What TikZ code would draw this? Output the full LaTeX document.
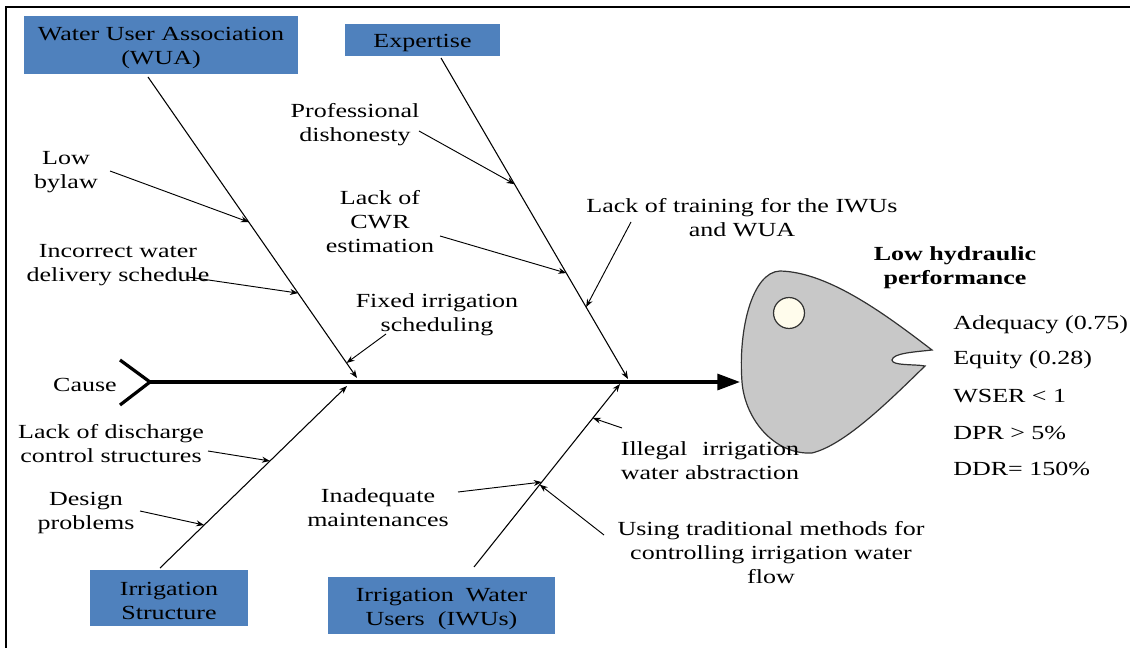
\documentclass[tikz,border=0pt]{standalone}
\usepackage{fontspec}
\usepackage{calc}
\setmainfont{Liberation Serif}[FakeStretch=1.3]
\usetikzlibrary{arrows.meta,calc}
\definecolor{boxblue}{RGB}{79,129,189}
\definecolor{fishgray}{RGB}{200,200,200}
\definecolor{eyecream}{RGB}{255,252,236}
\definecolor{fishline}{RGB}{50,50,50}
\begin{document}
\begin{tikzpicture}[x=0.75pt,y=-0.75pt,
  txt/.style={inner sep=0pt, align=center, yshift=-2.5pt, font=\fontsize{15}{18}\selectfont},
  catbox/.style={fill=boxblue, draw=none, inner sep=0pt},
  bone/.style={draw=black, line width=0.8pt, -{Stealth[length=6pt,width=4.5pt]}},
  subarrow/.style={draw=black, line width=0.7pt, -{Stealth[length=6pt,width=4.5pt]}},
  spine/.style={line width=2.4pt},
  metric/.style={inner sep=0pt, anchor=west, yshift=-1.5pt, font=\fontsize{15}{18}\selectfont},
]
\useasboundingbox (0,0) rectangle (1130,648);
% frame
\draw[line width=1.6pt] (1130,7) -- (6,7) -- (6,648);

% fish head
\draw[fill=fishgray, draw=fishline, line width=0.9pt]
  (742,382) .. controls (738,330) and (752,272) .. (780,271)
  .. controls (830,272) and (890,318) .. (932,350)
  .. controls (915,352) and (893,353) .. (892,360)
  .. controls (892,366) and (915,364) .. (925,366)
  .. controls (890,400) and (845,445) .. (812,453)
  .. controls (775,455) and (745,420) .. (742,382) -- cycle;
\draw[fill=eyecream, draw=fishline, line width=0.9pt] (789,313) circle[radius=11.6pt];

% category boxes
\node[catbox, minimum width=205.5pt, minimum height=43.5pt] (wua) at (161,45) {};
\node[txt] (wuaT) at (wua) {Water User Association\\(WUA)};
\node[catbox, minimum width=116.25pt, minimum height=24pt] (exp) at (422.5,40) {};
\node[txt] (expT) at (exp) {Expertise};
\node[catbox, minimum width=118.5pt, minimum height=42pt] (irs) at (169,598) {};
\node[txt] (irsT) at (irs) {Irrigation\\Structure};
\node[catbox, minimum width=170.25pt, minimum height=42.75pt] (iwu) at (441.5,605.5) {};
\node[txt] (iwuT) at (iwu) {Irrigation\hspace{4pt} Water\\Users\hspace{5pt} (IWUs)};

% spine
\coordinate (tail) at (150,382);
\coordinate (head) at (740,382);
\coordinate (chevA) at (120,360);
\coordinate (chevB) at (120,405);
\draw[spine, -{Triangle[length=17pt,width=12pt]}] (tail) -- (head);
\draw[spine] (chevA) -- (tail) -- (chevB);
\node[txt] (cause) at (85,382) {Cause};

% bones
\coordinate (wuaS) at (148,77);  \coordinate (wuaE) at (357,378);
\coordinate (expS) at (441,58);  \coordinate (expE) at (628,379);
\coordinate (irsS) at (160,568); \coordinate (irsE) at (347,386);
\coordinate (iwuS) at (474,567); \coordinate (iwuE) at (620,384);
\draw[bone] (wuaS) -- (wuaE);
\draw[bone] (expS) -- (expE);
\draw[bone] (irsS) -- (irsE);
\draw[bone] (iwuS) -- (iwuE);

% texts
\node[txt] (lowbylaw) at (66,169) {Low\\bylaw};
\node[txt] (incorrect) at (118,262) {Incorrect water\\delivery schedule};
\node[txt] (fixed) at (437,311) {Fixed irrigation\\scheduling};
\node[txt] (prof) at (355,121) {Professional\\dishonesty};
\node[txt] (cwr) at (380,218) {Lack of\\CWR\\estimation};
\node[txt] (training) at (742,214) {Lack of training for the IWUs\\and WUA};
\node[txt, font=\fontsize{15}{18}\selectfont\bfseries] (title) at (955,264) {Low hydraulic\\performance};
\node[txt] (discharge) at (111,440) {Lack of discharge\\control structures};
\node[txt] (design) at (86,510) {Design\\problems};
\node[txt] (inadequate) at (378,504) {Inadequate\\maintenances};
\node[txt] (illegal) at (710,457) {\makebox[\widthof{water abstraction}][s]{Illegal irrigation}\\water abstraction};
\node[txt] (using) at (771,549) {Using traditional methods for\\controlling irrigation water\\flow};

\node[metric] (m1) at (953,323) {Adequacy (0.75)};
\node[metric] (m2) at (953,358) {Equity (0.28)};
\node[metric] (m3) at (953,394) {WSER < 1};
\node[metric] (m4) at (953,431) {DPR > 5\%};
\node[metric] (m5) at (953,467) {DDR= 150\%};

% sub-arrow start points
\coordinate (sBylaw) at (110,171);
\coordinate (sIncorrect) at (188,277);
\coordinate (sFixed) at (386,334);
\coordinate (sProf) at (419,131);
\coordinate (sCwr) at (440,236);
\coordinate (sTraining) at (631,222);
\coordinate (sDischarge) at (208,451);
\coordinate (sDesign) at (140,511);
\coordinate (sInadequate) at (458,492);
\coordinate (sUsing) at (604,535);
\coordinate (sIllegal) at (622,428);

% sub-arrows onto bones
\draw[subarrow] (sBylaw) -- ($(wuaS)!0.482!(wuaE)$);
\draw[subarrow] (sIncorrect) -- ($(wuaS)!0.718!(wuaE)$);
\draw[subarrow] (sFixed) -- ($(wuaS)!0.950!(wuaE)$);
\draw[subarrow] (sProf) -- ($(expS)!0.393!(expE)$);
\draw[subarrow] (sCwr) -- ($(expS)!0.670!(expE)$);
\draw[subarrow] (sTraining) -- ($(expS)!0.776!(expE)$);
\draw[subarrow] (sDischarge) -- ($(irsS)!0.588!(irsE)$);
\draw[subarrow] (sDesign) -- ($(irsS)!0.236!(irsE)$);
\draw[subarrow] (sInadequate) -- ($(iwuS)!0.464!(iwuE)$);
\draw[subarrow] (sUsing) -- ($(iwuS)!0.45!(iwuE)$);
\draw[subarrow] (sIllegal) -- ($(iwuS)!0.814!(iwuE)$);
\end{tikzpicture}
\end{document}
